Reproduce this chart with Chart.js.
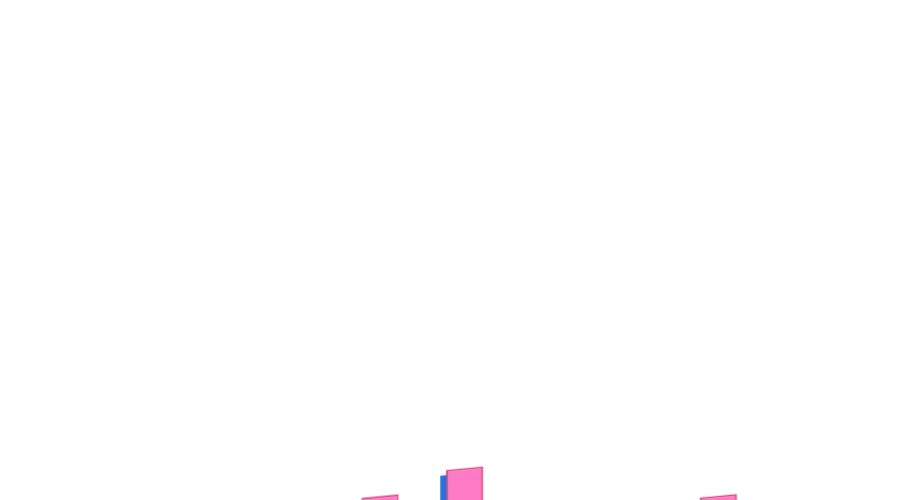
<!DOCTYPE html>
<html>
<head>
<meta charset="utf-8">
<script src="https://cdn.jsdelivr.net/npm/chart.js@4"></script>
<style>
    html, body { margin: 0; padding: 0; width: 900px; height: 500px; overflow: hidden; background: #ffffff; }
    #wrap {
        position: absolute; left: 0; top: 0; width: 900px; height: 700px;
        transform: skewY(-5.5deg); transform-origin: 450px 0;
    }
</style>
</head>
<body>
<div id="wrap"><canvas id="barChart"></canvas></div>
<script>
// categories and values (only the tops of a few bars show in the picture)
const categories = ['A', 'B', 'C', 'D', 'E', 'F', 'G', 'H', 'I'];
const blueValues = [6, 9, 7, 10, 24.2, 8, 6, 9, 5];
const pinkValues = [10, 14, 12, 21.8, 25.1, 13, 11, 16.4, 9];

// ============================================
// CHART
// ============================================

const ctx = document.getElementById('barChart').getContext('2d');
const barChart = new Chart(ctx, {
    type: 'bar',
    data: {
        labels: categories,
        datasets: [{
            label: 'Blue',
            data: blueValues,
            backgroundColor: '#2f6fd9',
            borderWidth: 0,
            barPercentage: 0.3
        }, {
            label: 'Pink',
            data: pinkValues,
            backgroundColor: '#ff7ac4',
            borderColor: '#e0487f',
            borderWidth: 2,
            barPercentage: 1.76
        }]
    },
    options: {
        responsive: true,
        maintainAspectRatio: false,
        animation: false,
        categoryPercentage: 0.5,
        layout: {
            padding: { left: 73.5, right: 65.5, top: 20, bottom: 80 }
        },
        plugins: {
            legend: { display: false },
            tooltip: { enabled: false }
        },
        scales: {
            x: { display: false },
            y: { display: false, min: 0, max: 100 }
        }
    }
});
</script>
</body>
</html>
